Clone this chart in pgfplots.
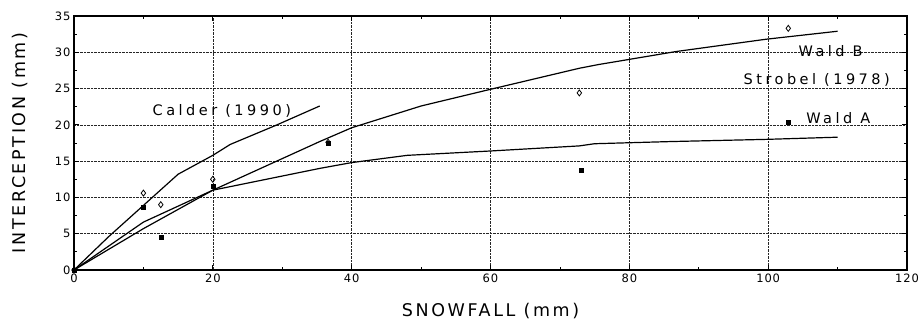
\documentclass[border=0pt]{standalone}
\usepackage{pgfplots}
\pgfplotsset{compat=1.18}
\usepackage{fontspec}
\setmainfont{DejaVu Sans}
\newfontfamily\labfont{DejaVu Sans}[LetterSpace=15]
\newfontfamily\annfont{DejaVu Sans}[LetterSpace=24]
\newfontfamily\tickfont{DejaVu Sans}[LetterSpace=8]
\begin{document}
\begin{tikzpicture}
\useasboundingbox (-74pt,-52pt) rectangle (845pt,270pt);
\begin{axis}[
  at={(0,0)}, anchor=south west,
  scale only axis, width=833pt, height=254pt,
  xmin=0, xmax=120, ymin=0, ymax=35,
  xtick={0,20,...,120}, ytick={0,5,...,35},
  minor x tick num=1, minor y tick num=1,
  grid=major,
  major grid style={black!85, densely dotted, line width=0.6pt},
  axis line style={line width=1.4pt},
  major tick length=5pt, minor tick length=3pt,
  tick style={black, line width=0.8pt},
  tick label style={font=\tickfont\fontsize{11.5}{13}\selectfont},
  /pgf/number format/assume math mode=true,
  xlabel={SNOWFALL (mm)}, ylabel={INTERCEPTION (mm)},
  label style={font=\labfont\fontsize{17.5}{20}\selectfont},
  xlabel style={yshift=-14pt},
  ylabel style={yshift=20pt},
  clip=false,
]
% Calder (1990)
\addplot[black, line width=1.2pt] coordinates {(0,0) (5,4.6) (10,8.9) (15,13.2) (20,15.8) (22.5,17.3) (29,19.9) (35.4,22.6)};
% upper curve (Wald B fit)
\addplot[black, line width=1.2pt] coordinates {(0,0) (10,5.7) (20,11.0) (35.4,17.7) (40,19.6) (50,22.6) (60,24.9) (72.8,27.8) (75.5,28.3) (86.7,30.1) (99.7,31.8) (110,32.9)};
% lower curve (Wald A fit)
\addplot[black, line width=1.2pt] coordinates {(0,0) (10,6.6) (20,11.0) (35.4,14.0) (40,14.8) (48,15.8) (60,16.4) (72.8,17.1) (75,17.4) (86,17.7) (99.7,18.0) (110,18.3)};
% Wald B observations
\addplot[only marks, mark=diamond, mark size=3pt, black, line width=0.8pt] coordinates {(0,0) (10,10.6) (12.5,9.0) (20,12.5) (36.6,17.6) (72.8,24.4) (102.9,33.3)};
% Wald A observations
\addplot[only marks, mark=square*, mark size=2pt, black] coordinates {(0,0) (10,8.7) (12.5,4.5) (20,11.5) (36.6,17.5) (73,13.8) (102.9,20.4)};
\node[font=\annfont\fontsize{14.5}{16}\selectfont] at (axis cs:21.3,21.9) {Calder (1990)};
\node[font=\annfont\fontsize{14.5}{16}\selectfont] at (axis cs:109,30.2) {Wald B};
\node[font=\annfont\fontsize{14.5}{16}\selectfont] at (axis cs:107,26.2) {Strobel (1978)};
\node[font=\annfont\fontsize{14.5}{16}\selectfont] at (axis cs:110.1,20.9) {Wald A};
\end{axis}
\end{tikzpicture}
\end{document}
